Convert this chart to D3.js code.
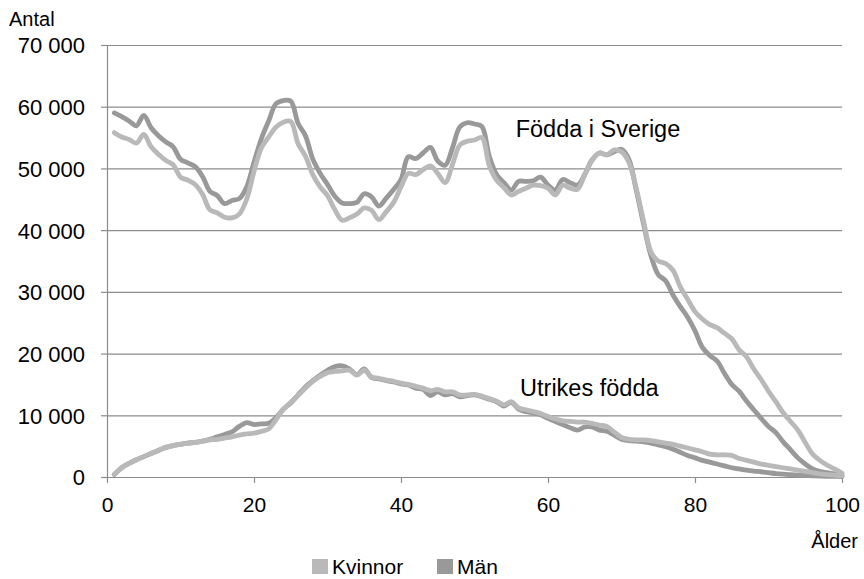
<!DOCTYPE html>
<html>
<head>
<meta charset="utf-8">
<script src="https://cdn.jsdelivr.net/npm/d3@7"></script>
<style>
    body { margin: 0; background: #fff; }
    text { font-family: "Liberation Sans", Arial, sans-serif; fill: #000; }
</style>
</head>
<body>
<div id="chart"></div>
<script>
// ages 1..100
var ages = d3.range(1, 101);

var sverigeMan = [
    59000, 58400, 57700, 56900, 58600, 56600, 55300, 54300, 53500, 51500,
    50900, 50300, 48700, 46300, 45600, 44300, 44800, 45100, 47000, 51000,
    54800, 57700, 60500, 61000, 60900, 57300, 55300, 51500, 49200, 47400,
    45500, 44400, 44300, 44500, 45900, 45400, 43900, 45200, 46600, 48200,
    51900, 51600, 52500, 53400, 51200, 50500, 53300, 56700, 57400, 57200,
    56800, 52000, 49000, 47700, 46500, 47900, 47900, 48000, 48600, 47300,
    46500, 48200, 47700, 47300, 49000, 51400, 52500, 52200, 52700, 53100,
    51500, 46500, 41000, 35900, 32800, 31800, 29500, 27600, 25900, 23700,
    21000, 19700, 18800, 16800, 15000, 13900, 12300, 10900, 9500, 8200,
    7200, 5700, 4400, 3100, 2100, 1300, 900, 700, 500, 300
];

var sverigeKvinnor = [
    55800, 55100, 54700, 54100, 55500, 53500, 52300, 51300, 50600, 48600,
    48100, 47400, 45800, 43300, 42800, 42100, 42000, 42600, 45000, 49500,
    53300, 55100, 56700, 57500, 57600, 54000, 52000, 49000, 47000, 45600,
    43300, 41600, 42000, 42600, 43600, 43200, 41700, 43000, 44500, 47000,
    49200, 49000, 49800, 50400, 49200, 47700, 50600, 53800, 54400, 54600,
    55000, 50500, 48100, 46900, 45700, 46300, 46800, 47300, 47200, 46800,
    45700, 47300, 46800, 46600, 49000, 51300, 52500, 52200, 53000, 52700,
    51000, 46800, 41500, 36500, 35000, 34600, 33500, 30800, 28800, 26800,
    25600, 24700, 24200, 23300, 22400, 20600, 19500, 17500, 15800, 13900,
    12200, 10400, 9000, 7600, 5600, 3700, 2700, 1900, 1300, 600
];

var utrikesMan = [
    400, 1500, 2200, 2800, 3300, 3800, 4300, 4800, 5100, 5300,
    5500, 5600, 5800, 6100, 6500, 6900, 7300, 8200, 8800, 8500,
    8600, 8700, 9600, 11000, 12000, 13300, 14600, 15600, 16500, 17300,
    17900, 18000, 17500, 16600, 17500, 16100, 15900, 15600, 15400, 15100,
    14900, 14400, 14200, 13200, 13800, 13300, 13500, 13000, 13200, 13300,
    13000, 12600, 12200, 11500, 12100, 11000, 10600, 10400, 10100, 9500,
    9000, 8500, 8000, 7600, 8100, 8100, 7600, 7400, 6800, 6100,
    5900, 5800, 5700, 5500, 5200, 4900, 4500, 4000, 3500, 3100,
    2700, 2400, 2100, 1800, 1500, 1300, 1100, 950, 850, 700,
    550, 450, 380, 320, 250, 200, 150, 120, 100, 80
];

var utrikesKvinnor = [
    400, 1500, 2200, 2800, 3300, 3800, 4300, 4800, 5100, 5300,
    5500, 5600, 5800, 6000, 6100, 6300, 6500, 6800, 7000, 7100,
    7400, 7800, 9300, 11000, 12100, 13200, 14400, 15500, 16300, 16900,
    17100, 17200, 17300, 16500, 17300, 16200, 16000, 15700, 15500, 15200,
    15000, 14700, 14400, 14000, 14200, 13800, 13800, 13300, 13300, 13400,
    13100, 12700, 12300, 11700, 12200, 11200, 10900, 10600, 10300, 9800,
    9400, 9100, 9000, 8900, 8900, 8700, 8400, 8200, 7300, 6400,
    6100, 6000, 6000, 5900, 5700, 5500, 5300, 5000, 4700, 4400,
    4100, 3700, 3600, 3600, 3500, 3000, 2700, 2400, 2100, 1900,
    1700, 1500, 1300, 1100, 900, 700, 500, 400, 300, 200
];

var yTicks = [0, 10000, 20000, 30000, 40000, 50000, 60000, 70000];
var xTicks = [0, 20, 40, 60, 80, 100];
var seriesNames = ['Kvinnor', 'Män'];
var colors = { 'Kvinnor': '#b9b9b9', 'Män': '#999999' };

var fullwidth = 864;
var fullheight = 579;
var margin = { top: 45, right: 22, bottom: 102, left: 107 };
var width = fullwidth - margin.left - margin.right;
var height = fullheight - margin.top - margin.bottom;

var svg = d3.select('#chart')
    .append('svg')
    .attr('width', fullwidth)
    .attr('height', fullheight);

var g = svg.append('g')
    .attr('transform', 'translate(' + margin.left + ',' + margin.top + ')');

var x = d3.scaleLinear().domain([0, 100]).range([0, width]);
var y = d3.scaleLinear().domain([0, 70000]).range([height, 0]);

// gridlines
g.append('g')
    .selectAll('line')
    .data(yTicks.filter(function(d) { return d > 0; }))
    .enter().append('line')
    .attr('x1', 0)
    .attr('x2', width)
    .attr('y1', function(d) { return y(d) + 0.5; })
    .attr('y2', function(d) { return y(d) + 0.5; })
    .attr('stroke', '#8c8c8c')
    .attr('stroke-width', 1.2);

var fmt = function(d) { return d3.format(',')(d).replace(',', ' '); };

var yAxis = g.append('g')
    .call(d3.axisLeft(y).tickValues(yTicks).tickFormat(fmt).tickSize(6).tickSizeOuter(0).tickPadding(16));
yAxis.select('.domain').attr('stroke', '#8c8c8c').attr('stroke-width', 1.2);
yAxis.selectAll('.tick line').attr('stroke', '#8c8c8c').attr('stroke-width', 1.2);
yAxis.selectAll('text')
    .style('font-size', '22px')
    .attr('dy', '0.36em');

var xAxis = g.append('g')
    .attr('transform', 'translate(0,' + height + ')')
    .call(d3.axisBottom(x).tickValues(xTicks).tickSize(6).tickSizeOuter(0).tickPadding(14));
xAxis.select('.domain').attr('stroke', '#8c8c8c').attr('stroke-width', 1.2);
xAxis.selectAll('.tick line').attr('stroke', '#8c8c8c').attr('stroke-width', 1.2);
xAxis.selectAll('text').style('font-size', '21px').attr('dy', '0.71em');

var line = d3.line()
    .x(function(d, i) { return x(ages[i]); })
    .y(function(d) { return y(d); })
    .curve(d3.curveCatmullRom);

var series = [
    { name: 'Män', values: sverigeMan },
    { name: 'Kvinnor', values: sverigeKvinnor },
    { name: 'Män', values: utrikesMan },
    { name: 'Kvinnor', values: utrikesKvinnor }
];

g.selectAll('path.serie')
    .data(series)
    .enter().append('path')
    .attr('class', 'serie')
    .attr('d', function(d) { return line(d.values); })
    .attr('fill', 'none')
    .attr('stroke', function(d) { return colors[d.name]; })
    .attr('stroke-width', 4.8)
    .attr('stroke-linejoin', 'round')
    .attr('stroke-linecap', 'round');

// annotations
g.append('text')
    .attr('x', x(55.6))
    .attr('y', y(55100))
    .style('font-size', '23.5px')
    .text('Födda i Sverige');

g.append('text')
    .attr('x', x(56.2))
    .attr('y', y(13100))
    .style('font-size', '23.5px')
    .text('Utrikes födda');

// axis titles
svg.append('text')
    .attr('x', 9)
    .attr('y', 26)
    .style('font-size', '20px')
    .text('Antal');

svg.append('text')
    .attr('x', 858)
    .attr('y', 548)
    .attr('text-anchor', 'end')
    .style('font-size', '20px')
    .text('Ålder');

// legend
var legend = svg.append('g').attr('transform', 'translate(312,559)');
var lx = [0, 125];
seriesNames.forEach(function(name, i) {
    var item = legend.append('g').attr('transform', 'translate(' + lx[i] + ',0)');
    item.append('rect')
        .attr('width', 16)
        .attr('height', 15)
        .attr('fill', colors[name]);
    item.append('text')
        .attr('x', 20)
        .attr('y', 15)
        .style('font-size', '21px')
        .text(name);
});
</script>
</body>
</html>
